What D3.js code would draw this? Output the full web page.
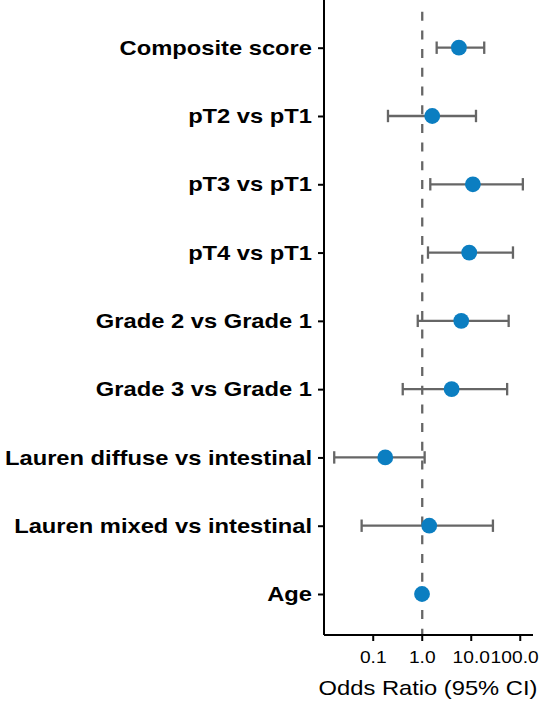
<!DOCTYPE html>
<html lang="en">
<head>
    <meta charset="utf-8">
    <title>Forest plot</title>
    <script src="https://d3js.org/d3.v7.min.js" charset="utf-8"></script>
    <style type="text/css">
        body { margin: 0; background: #fff; }
        .lab { font-family: 'Liberation Sans', Arial, sans-serif; }
    </style>
</head>
<body>
    <script type="text/javascript">

        // data, top row first
        var labels = ["Composite score", "pT2 vs pT1", "pT3 vs pT1", "pT4 vs pT1",
            "Grade 2 vs Grade 1", "Grade 3 vs Grade 1", "Lauren diffuse vs intestinal",
            "Lauren mixed vs intestinal", "Age"];
        var oddsRatio = [5.6, 1.6, 10.8, 9.1, 6.25, 3.98, 0.176, 1.39, 0.99];
        var ciLow = [1.97, 0.20, 1.46, 1.31, 0.81, 0.40, 0.016, 0.058, 0.97];
        var ciHigh = [18.4, 12.5, 113, 71, 58, 54, 1.12, 27.7, 1.02];
        var tickValues = [0.1, 1, 10, 100];

        var width = 550, height = 705,
            stretch = 1.13; // text in the picture is a little wide

        var svg = d3.select("body").append("svg")
            .attr("width", width)
            .attr("height", height);

        var data = labels.map(function (d, i) {
            return { label: d, or: oddsRatio[i], lo: ciLow[i], hi: ciHigh[i] };
        });

        var x = d3.scaleLog()
            .domain([0.0099, 182])
            .range([324, 533]);

        var y = d3.scalePoint()
            .domain(labels)
            .range([47.7, 594]);

        // reference line at OR = 1
        svg.append("line")
            .attr("x1", x(1)).attr("x2", x(1))
            .attr("y1", 11.7).attr("y2", 635)
            .attr("stroke", "#666")
            .attr("stroke-width", 2.3)
            .attr("stroke-dasharray", "9,9.7");

        // error bars
        var bars = svg.append("g");
        bars.selectAll(".ci")
            .data(data)
            .enter()
            .append("line")
            .attr("x1", function (d) { return x(d.lo); })
            .attr("x2", function (d) { return x(d.hi); })
            .attr("y1", function (d) { return y(d.label); })
            .attr("y2", function (d) { return y(d.label); })
            .attr("stroke", "#666")
            .attr("stroke-width", 2.3);
        ["lo", "hi"].forEach(function (k) {
            bars.selectAll(".cap-" + k)
                .data(data)
                .enter()
                .append("line")
                .attr("x1", function (d) { return x(d[k]); })
                .attr("x2", function (d) { return x(d[k]); })
                .attr("y1", function (d) { return y(d.label) - 6.2; })
                .attr("y2", function (d) { return y(d.label) + 6.2; })
                .attr("stroke", "#666")
                .attr("stroke-width", 2.3);
        });

        // points
        svg.selectAll("circle")
            .data(data)
            .enter()
            .append("circle")
            .attr("cx", function (d) { return x(d.or); })
            .attr("cy", function (d) { return y(d.label); })
            .attr("r", 7.9)
            .attr("fill", "#0B7EC1");

        // axes
        var yAxis = svg.append("g")
            .attr("class", "lab")
            .attr("transform", "translate(324,0)")
            .call(d3.axisLeft(y).tickSize(6).tickPadding(5));
        yAxis.select(".domain").attr("d", "M0,0V635");
        yAxis.selectAll("text")
            .attr("font-size", 21)
            .attr("font-weight", "bold")
            .attr("fill", "#000")
            .attr("x", -12 / stretch)
            .attr("transform", "scale(" + stretch + ",1)");

        var xAxis = svg.append("g")
            .attr("class", "lab")
            .attr("transform", "translate(0,635)")
            .call(d3.axisBottom(x).tickValues(tickValues)
                .tickFormat(d3.format(".1f")).tickSize(6).tickPadding(10));
        xAxis.select(".domain").attr("d", "M324,0H533");
        xAxis.selectAll("text")
            .attr("font-size", 17)
            .attr("fill", "#000")
            .attr("transform", "scale(" + stretch + ",1)")
            .attr("x", 0)
            .attr("dx", function (d) { return d === 100 ? -5 : 0; })
            .each(function (d) {
                d3.select(this.parentNode).attr("transform",
                    "translate(" + x(d) + ",0)");
            });

        svg.selectAll(".domain, .tick line")
            .attr("stroke", "#000")
            .attr("stroke-width", 2);

        svg.append("text")
            .attr("class", "lab")
            .attr("transform", "translate(428,695) scale(" + stretch + ",1)")
            .attr("text-anchor", "middle")
            .attr("font-size", 21)
            .text("Odds Ratio (95% CI)");

    </script>
</body>
</html>
